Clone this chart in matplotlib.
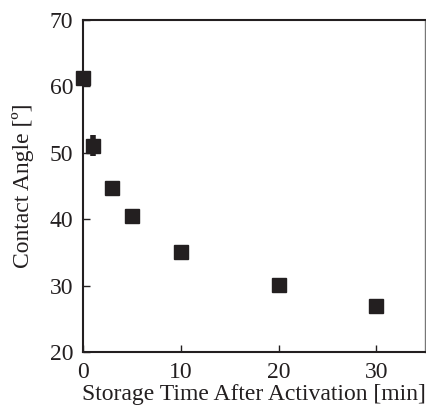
import numpy as np
from matplotlib import pyplot as plt

plt.rcParams['font.family'] = ['Liberation Serif', 'DejaVu Serif']

# storage time after activation [min] and contact angle [deg]
time_min = [0, 1, 3, 5, 10, 20, 30]
angle = [61.3, 51.1, 44.7, 40.5, 35.05, 30.15, 27.0]
angle_err = [0.6, 1.6, 0.9, 0.5, 0.5, 0.5, 0.5]

xticks = [0, 10, 20, 30]
yticks = [20, 30, 40, 50, 60, 70]

fig = plt.figure(figsize=(4.26, 4.08), dpi=100)
ax = fig.add_axes([0.195, 0.137, 0.803, 0.814])

ax.errorbar(time_min, angle, yerr=angle_err, fmt='s', color='#231f20',
            ms=10, capsize=0, elinewidth=4, clip_on=False, zorder=3)

ax.set_xlim(0, 35)
ax.set_ylim(20, 70)
ax.set_xticks(xticks)
ax.set_yticks(yticks)
ax.tick_params(direction='in', length=5, width=1, labelsize=17, colors='#231f20')
ax.tick_params(axis='x', pad=7)
ax.tick_params(axis='y', pad=7)
for s in ax.spines.values():
    s.set_linewidth(1.5)
    s.set_color('#231f20')
ax.spines['right'].set_color('#777777')
ax.spines['right'].set_linewidth(1)

ax.set_xlabel('Storage Time After Activation [min]', fontsize=17, labelpad=1, color='#231f20')
ax.set_ylabel('Contact Angle [º]', fontsize=17, labelpad=11, color='#231f20')

plt.savefig('out.png', dpi=100)
